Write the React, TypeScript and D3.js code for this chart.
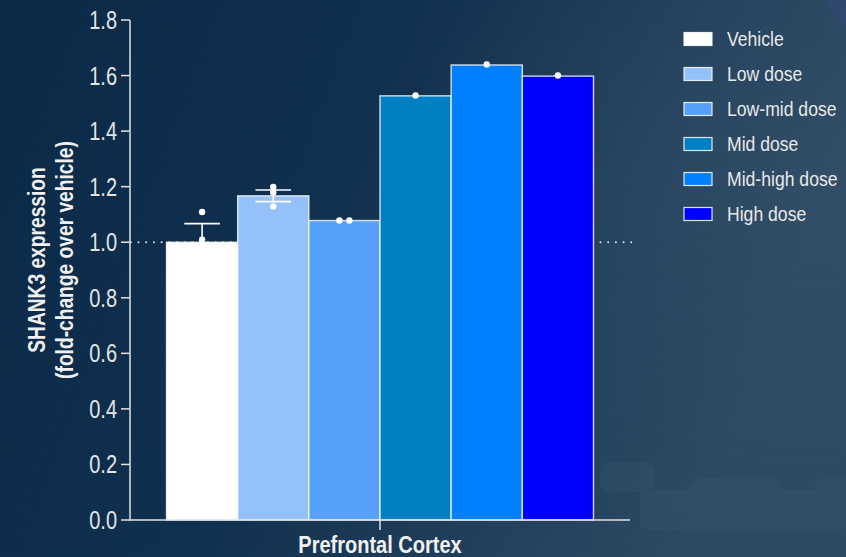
import React from "react";
import * as d3 from "d3";

const categories = ["Prefrontal Cortex"];
const groups = ["Vehicle", "Low dose", "Low-mid dose", "Mid dose", "Mid-high dose", "High dose"];
const means = [1.0, 1.167, 1.078, 1.527, 1.638, 1.598];
const errors = [0.067, 0.021, 0, 0, 0, 0];
const points = [
  [1.109, 1.009],
  [1.199, 1.179, 1.129],
  [1.078, 1.078],
  [1.528],
  [1.64],
  [1.6],
];
const colors = ["#ffffff", "#94c1f9", "#569ffb", "#0080c4", "#0080ff", "#0000ff"];
const yTicks = [0, 0.2, 0.4, 0.6, 0.8, 1.0, 1.2, 1.4, 1.6, 1.8];
const yTitle = ["SHANK3 expression", "(fold-change over vehicle)"];
const refValue = 1.0;

const W = 846;
const H = 557;
const FONT = "'Liberation Sans', Arial, Helvetica, sans-serif";

export default function App() {
  const y = d3.scaleLinear().domain([0, 1.8]).range([520, 20]);
  const x = d3.scaleBand().domain(categories).range([130, 630]).paddingInner(0).paddingOuter(0.0855);
  const x0 = x(categories[0]) as number;
  const xg = d3.scaleBand().domain(groups).range([x0, x0 + x.bandwidth()]).padding(0);
  const bw = xg.bandwidth();

  const axisColor = "#e2e2e2";
  const dots = d3.range(130, 631, 7.7);

  return (
    <svg
      width={W}
      height={H}
      style={{ position: "absolute", left: 0, top: 0, display: "block" }}
      fontFamily={FONT}
    >
      <defs>
        <linearGradient id="bg" x1="0" y1="0" x2="1" y2="0.25">
          <stop offset="0" stopColor="#0b2a48" />
          <stop offset="0.45" stopColor="#10304f" />
          <stop offset="0.75" stopColor="#213f5c" />
          <stop offset="1" stopColor="#2e4a64" />
        </linearGradient>
        <radialGradient id="glow" cx="0.95" cy="0.35" r="0.5">
          <stop offset="0" stopColor="#36536d" stopOpacity="0.4" />
          <stop offset="1" stopColor="#36536d" stopOpacity="0" />
        </radialGradient>
      </defs>
      <rect x={0} y={0} width={W} height={H} fill="url(#bg)" />
      <rect x={0} y={0} width={W} height={H} fill="url(#glow)" />
      <polygon points="824,0 846,0 846,28" fill="#3b4580" opacity={0.35} />
      <g opacity={0.05} fill="#8aa3ba">
        <rect x={600} y={462} width={55} height={30} rx={10} />
        <rect x={690} y={478} width={90} height={26} rx={10} />
        <rect x={815} y={478} width={40} height={26} rx={10} />
        <rect x={640} y={490} width={206} height={40} rx={8} />
      </g>

      {/* reference dotted line */}
      <g fill="#ffffff">
        {dots.map((d, i) => (
          <rect key={i} x={d} y={y(refValue) - 0.75} width={1.6} height={1.6} />
        ))}
      </g>

      {/* bars */}
      {groups.map((g, i) => (
        <rect
          key={g}
          x={xg(g) as number}
          y={y(means[i])}
          width={bw}
          height={y(0) - y(means[i])}
          fill={colors[i]}
          stroke="#ffffff"
          strokeOpacity={0.8}
          strokeWidth={1.4}
        />
      ))}

      {/* error bars */}
      {groups.map((g, i) => {
        if (!errors[i]) return null;
        const cx = (xg(g) as number) + bw / 2;
        const hi = y(means[i] + errors[i]);
        const lo = y(means[i] - errors[i]);
        const cw = bw / 4;
        return (
          <g key={g} stroke="#ffffff" strokeWidth={1.6}>
            <line x1={cx} x2={cx} y1={hi} y2={lo} />
            <line x1={cx - cw} x2={cx + cw} y1={hi} y2={hi} />
            <line x1={cx - cw} x2={cx + cw} y1={lo} y2={lo} />
          </g>
        );
      })}

      {/* individual points */}
      {groups.map((g, i) => {
        const cx = (xg(g) as number) + bw / 2;
        const pts = points[i];
        const placed: { px: number; py: number }[] = [];
        pts.forEach((v) => {
          const py = y(v);
          const same = pts.filter((w) => Math.abs(y(w) - py) < 3);
          const idx = placed.filter((p) => Math.abs(p.py - py) < 3).length;
          const off = same.length > 1 ? (idx - (same.length - 1) / 2) * 10 : 0;
          placed.push({ px: cx + off, py });
        });
        return (
          <g key={g} fill="#ffffff">
            {placed.map((p, k) => (
              <circle key={k} cx={p.px} cy={p.py} r={3.2} />
            ))}
          </g>
        );
      })}

      {/* axes */}
      <line x1={130} x2={130} y1={y(1.8)} y2={y(0) + 0.75} stroke={axisColor} strokeWidth={1.5} />
      <line x1={130} x2={630} y1={y(0)} y2={y(0)} stroke={axisColor} strokeWidth={1.5} />
      {yTicks.map((t) => (
        <g key={t}>
          <line x1={121} x2={130} y1={y(t)} y2={y(t)} stroke={axisColor} strokeWidth={1.5} />
          <text
            transform={`translate(117,${y(t) + 9}) scale(0.8,1)`}
            textAnchor="end"
            fontSize={25}
            fill="#e4e4e4"
          >
            {t.toFixed(1)}
          </text>
        </g>
      ))}
      {categories.map((c) => {
        const cx = (x(c) as number) + x.bandwidth() / 2;
        return (
          <g key={c}>
            <line x1={cx} x2={cx} y1={y(0)} y2={y(0) + 10} stroke={axisColor} strokeWidth={1.5} />
            <text
              transform={`translate(${cx},553) scale(0.87,1)`}
              textAnchor="middle"
              fontSize={23}
              fontWeight="bold"
              fill="#f0f0f0"
            >
              {c}
            </text>
          </g>
        );
      })}

      {/* y title */}
      {yTitle.map((t, i) => (
        <text
          key={t}
          transform={`translate(${45 + i * 28},260) rotate(-90) scale(0.8,1)`}
          textAnchor="middle"
          fontSize={24}
          fontWeight="bold"
          fill="#f0f0f0"
        >
          {t}
        </text>
      ))}

      {/* legend */}
      {groups.map((g, i) => {
        const cy = 39 + i * 35;
        return (
          <g key={g}>
            <rect
              x={684}
              y={cy - 6.5}
              width={28}
              height={13}
              fill={colors[i]}
              stroke="#ffffff"
              strokeOpacity={0.85}
              strokeWidth={1.2}
            />
            <text
              transform={`translate(727,${cy + 7}) scale(0.88,1)`}
              fontSize={20}
              fill="#e8e8e8"
            >
              {g}
            </text>
          </g>
        );
      })}
    </svg>
  );
}
